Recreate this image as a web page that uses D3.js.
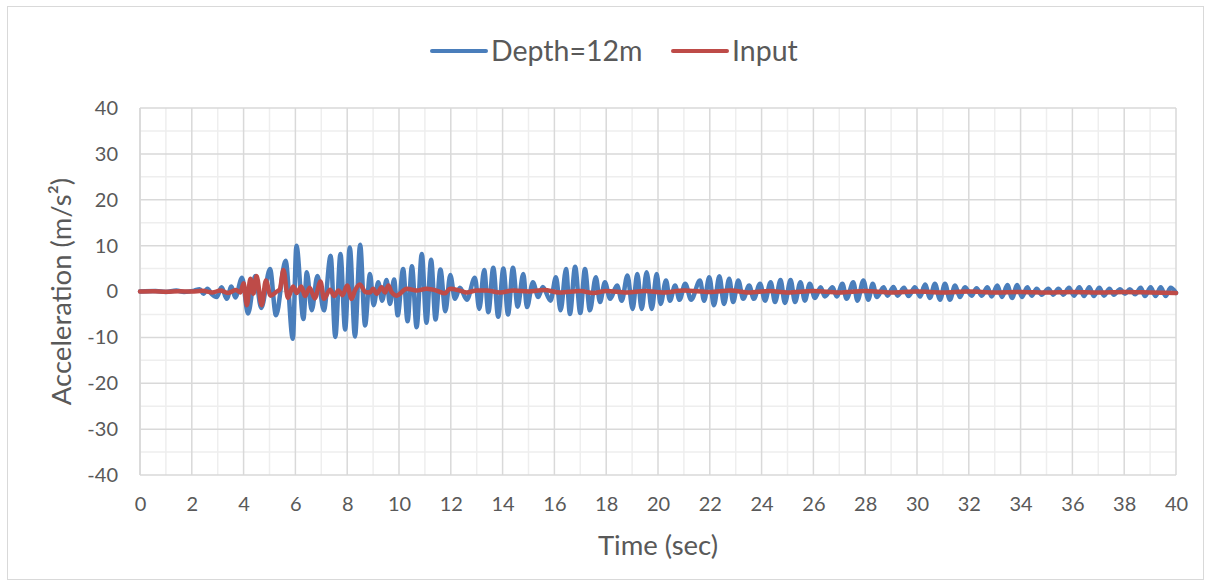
<!DOCTYPE html><html lang="en"><head><meta charset="utf-8">
<title>Acceleration - Depth=12m vs Input</title>
<script src="https://cdn.jsdelivr.net/npm/d3@7"></script>
<style>
body {
	margin: 0;
	background: #fff;
}
text {
	font-family: Lato, "Open Sans", sans-serif;
	fill: #595959;
}
</style>
</head>
<body>
<div id="chart"></div>
<script>
// series names (legend)
const seriesNames = ["Depth=12m", "Input"];

// Depth=12m : time (sec) / acceleration (m/s2), read at peaks and troughs
const depthTime = [0, 0.6, 1.0, 1.4, 1.7, 2.1, 2.3, 2.45, 2.6, 2.78, 2.96, 3.15, 3.35, 3.53, 3.68, 3.94, 4.17, 4.45, 4.68, 5.02,
	5.25, 5.62, 5.9, 6.04, 6.31, 6.44, 6.63, 6.85, 7.1, 7.36, 7.54, 7.74, 7.92, 8.1, 8.3, 8.5, 8.69, 8.88, 9.02, 9.2,
	9.35, 9.52, 9.65, 9.81, 9.95, 10.16, 10.33, 10.5, 10.68, 10.88, 11.06, 11.24, 11.41, 11.6, 11.79, 11.98, 12.16, 12.35, 12.62, 12.93,
	13.1, 13.29, 13.45, 13.64, 13.83, 14.03, 14.21, 14.4, 14.58, 14.8, 14.94, 15.17, 15.38, 15.55, 15.85, 16.06, 16.24, 16.45, 16.6, 16.8,
	17.0, 17.18, 17.37, 17.6, 17.76, 17.95, 18.15, 18.42, 18.6, 18.82, 19.02, 19.2, 19.37, 19.56, 19.76, 19.95, 20.1, 20.31, 20.46, 20.66,
	20.83, 21.05, 21.28, 21.62, 21.78, 21.98, 22.16, 22.37, 22.55, 22.75, 22.9, 23.1, 23.29, 23.52, 23.7, 23.94, 24.13, 24.35, 24.52, 24.73,
	24.9, 25.12, 25.29, 25.5, 25.67, 25.86, 26.06, 26.28, 26.44, 26.74, 26.9, 27.12, 27.28, 27.54, 27.7, 27.93, 28.12, 28.29, 28.45, 28.71,
	28.86, 29.09, 29.25, 29.5, 29.67, 29.92, 30.12, 30.31, 30.5, 30.69, 30.89, 31.08, 31.27, 31.47, 31.66, 31.85, 32.11, 32.3, 32.5, 32.72,
	32.88, 33.1, 33.28, 33.49, 33.67, 33.87, 34.05, 34.26, 34.43, 34.62, 34.81, 35.07, 35.26, 35.46, 35.65, 35.87, 36.06, 36.27, 36.45, 36.65,
	36.83, 37.04, 37.22, 37.43, 37.6, 37.84, 38.03, 38.22, 38.42, 38.64, 38.8, 39.02, 39.21, 39.41, 39.6, 39.79, 40.0];
const depthAcc = [0, 0.1, -0.1, 0.2, -0.1, 0.2, 0.5, -0.5, 0.6, -0.6, -1.2, 0.9, -1.6, 1.1, -1.3, 3.0, -4.8, 3.4, -3.6, 4.9,
	-5.2, 6.7, -10.3, 10.0, -6.0, 4.2, -4.1, 3.4, -4.1, 7.8, -9.9, 8.2, -8.3, 9.6, -9.8, 10.2, -7.4, 3.8, -3.0, 2.0,
	-2.0, 2.5, -2.7, 2.6, -5.2, 4.9, -6.5, 5.5, -7.8, 8.2, -6.8, 6.9, -6.1, 4.8, -4.3, 3.6, -1.6, 0.8, -1.8, 3.0,
	-3.8, 4.7, -4.5, 5.2, -5.5, 5.0, -5.0, 5.2, -3.3, 3.8, -3.4, 2.0, -1.2, 1.0, -2.0, 3.1, -4.1, 4.9, -4.9, 5.4,
	-4.7, 4.9, -4.1, 3.1, -2.3, 2.0, -1.6, 1.3, -2.0, 3.5, -3.8, 3.8, -3.8, 4.2, -3.8, 3.8, -2.7, 2.4, -2.0, 1.3,
	-1.8, 1.7, -1.8, 2.4, -2.0, 3.1, -3.0, 3.3, -2.7, 2.8, -2.3, 2.4, -1.6, 1.3, -1.6, 1.7, -2.0, 2.0, -2.3, 2.5,
	-2.5, 2.5, -2.3, 2.0, -2.0, 1.7, -1.4, 0.9, -1.1, 0.9, -1.1, 1.7, -1.6, 2.0, -2.0, 2.4, -1.8, 1.7, -1.2, 0.9,
	-0.9, 1.0, -0.9, 0.8, -1.0, 0.9, -1.1, 1.5, -1.4, 1.7, -1.8, 1.7, -1.8, 1.3, -1.2, 0.9, -0.9, 0.7, -0.9, 0.9,
	-1.1, 1.3, -1.2, 1.4, -1.4, 1.4, -1.2, 0.9, -0.9, 0.6, -0.7, 0.6, -0.7, 0.6, -0.7, 0.8, -0.9, 0.9, -1.0, 0.9,
	-1.0, 0.8, -0.9, 0.6, -0.7, 0.5, -0.5, 0.5, -0.6, 0.8, -1.0, 0.9, -1.0, 0.9, -1.0, 0.8, -0.3];

// Input : time (sec) / acceleration (m/s2)
const inputTime = [0, 0.5, 1.0, 1.5, 2.0, 2.4, 2.8, 3.1, 3.4, 3.7, 3.88, 4.0, 4.13, 4.26, 4.38, 4.5, 4.7, 4.86, 5.04, 5.28,
	5.4, 5.54, 5.71, 5.91, 6.05, 6.23, 6.37, 6.55, 6.75, 6.97, 7.1, 7.34, 7.5, 7.66, 7.82, 8.0, 8.17, 8.3, 8.49, 8.7,
	8.88, 9.0, 9.14, 9.33, 9.46, 9.59, 9.72, 9.91, 10.3, 10.68, 11.07, 11.45, 11.77, 11.97, 12.35, 12.61, 12.99, 13.38, 13.9, 14.41,
	15.0, 15.6, 16.2, 17.0, 17.5, 18.0, 18.8, 19.5, 20.2, 21.0, 22.0, 22.8, 23.5, 24.3, 25.0, 26.0, 27.0, 28.0, 29.0, 30.0,
	31.0, 32.0, 33.0, 34.0, 35.0, 36.0, 37.0, 38.0, 39.0, 40.0];
const inputAcc = [0, 0.05, -0.05, 0.05, 0, 0.15, -0.2, 0.2, -0.3, 0.3, -0.2, 1.8, -3.0, 2.8, -0.5, 3.4, -3.0, 2.4, -0.9, 0.0,
	0.5, 4.7, -1.4, 1.1, -0.3, 1.1, -1.0, 0.8, -1.5, 2.2, -1.6, 0.4, -1.0, 0.2, -0.8, 1.3, -1.6, 0.2, 1.5, -0.1,
	-0.2, 0.6, -0.5, 0.9, -0.2, 1.3, -0.2, -0.9, 0.6, 0.2, 0.6, 0.2, -0.4, 0.6, 0.2, -0.2, 0.2, 0.2, -0.2, 0.2,
	0.0, 0.3, -0.2, 0.1, -0.3, 0.1, -0.2, 0.1, -0.2, 0.2, -0.1, 0.2, -0.2, 0.1, -0.2, 0.1, -0.2, 0.1, -0.2, 0.0,
	-0.2, 0.0, -0.2, -0.1, -0.2, -0.1, -0.2, -0.1, -0.2, -0.3];

// axis ticks
const xTicks = [0, 2, 4, 6, 8, 10, 12, 14, 16, 18, 20, 22, 24, 26, 28, 30, 32, 34, 36, 38, 40];
const yTicks = [-40, -30, -20, -10, 0, 10, 20, 30, 40];

const colors = ["#4a7ebb", "#be4b48"];

window.onload = () => {
	const W = 1211, H = 586;
	const margin = { top: 108, right: 35, bottom: 111, left: 140 };
	const width = W - margin.left - margin.right;
	const height = H - margin.top - margin.bottom;

	const svg = d3.select("#chart")
		.append("svg")
			.attr("width", W)
			.attr("height", H);

	// chart frame
	svg.append("rect")
		.attr("x", 7.5).attr("y", 6.5)
		.attr("width", 1196).attr("height", 573)
		.attr("fill", "#fff")
		.attr("stroke", "#d9d9d9");

	const g = svg.append("g")
		.attr("transform", `translate(${margin.left}, ${margin.top})`);

	const x = d3.scaleLinear().domain([0, 40]).range([0, width]);
	const y = d3.scaleLinear().domain([-40, 40]).range([height, 0]);

	// minor grid
	const xMinor = d3.range(1, 40, 2);
	const yMinor = d3.range(-35, 40, 10);
	g.append("g").selectAll("line").data(xMinor).join("line")
		.attr("x1", d => x(d)).attr("x2", d => x(d))
		.attr("y1", 0).attr("y2", height)
		.attr("stroke", "#eeeeee").attr("stroke-width", 1.5);
	g.append("g").selectAll("line").data(yMinor).join("line")
		.attr("x1", 0).attr("x2", width)
		.attr("y1", d => y(d)).attr("y2", d => y(d))
		.attr("stroke", "#eeeeee").attr("stroke-width", 1.5);

	// major grid
	g.append("g").selectAll("line").data(xTicks).join("line")
		.attr("x1", d => x(d)).attr("x2", d => x(d))
		.attr("y1", 0).attr("y2", height)
		.attr("stroke", "#d9d9d9").attr("stroke-width", 1.5);
	g.append("g").selectAll("line").data(yTicks).join("line")
		.attr("x1", 0).attr("x2", width)
		.attr("y1", d => y(d)).attr("y2", d => y(d))
		.attr("stroke", "#d9d9d9").attr("stroke-width", 1.5);

	// axes (labels only, Excel style; plain hyphen for negatives)
	const xAxis = g.append("g")
		.attr("transform", `translate(0, ${height})`)
		.call(d3.axisBottom(x).tickValues(xTicks).tickFormat(d => String(d)).tickSize(0).tickPadding(22));
	const yAxis = g.append("g")
		.call(d3.axisLeft(y).tickValues(yTicks).tickFormat(d => String(d)).tickSize(0).tickPadding(22));
	[xAxis, yAxis].forEach(a => {
		a.select(".domain").remove();
		a.selectAll("text")
			.attr("font-family", "Lato, 'Open Sans', sans-serif")
			.attr("font-size", 20)
			.attr("fill", "#595959");
	});
	g.append("line")
		.attr("x1", 0).attr("x2", 0).attr("y1", 0).attr("y2", height)
		.attr("stroke", "#d9d9d9").attr("stroke-width", 1.5);

	// series
	const depthData = depthTime.map((t, i) => ({ t, v: depthAcc[i] }));
	const inputData = inputTime.map((t, i) => ({ t, v: inputAcc[i] }));
	const line = d3.line()
		.x(d => x(d.t))
		.y(d => y(d.v))
		.curve(d3.curveMonotoneX);

	[depthData, inputData].forEach((data, i) => {
		g.append("path")
			.datum(data)
			.attr("fill", "none")
			.attr("stroke", colors[i])
			.attr("stroke-width", 4.5)
			.attr("stroke-linejoin", "round")
			.attr("stroke-linecap", "round")
			.attr("d", line);
	});

	// axis titles
	svg.append("text")
		.attr("x", margin.left + width / 2)
		.attr("y", 555)
		.attr("text-anchor", "middle")
		.attr("font-size", 27.5)
		.text("Time (sec)");
	svg.append("text")
		.attr("transform", `translate(71, ${margin.top + height / 2}) rotate(-90)`)
		.attr("text-anchor", "middle")
		.attr("font-size", 27.5)
		.text("Acceleration (m/s²)");

	// legend
	const legendX = [432, 673];
	const legend = svg.append("g");
	seriesNames.forEach((name, i) => {
		legend.append("line")
			.attr("x1", legendX[i]).attr("x2", legendX[i] + 54)
			.attr("y1", 51).attr("y2", 51)
			.attr("stroke", colors[i])
			.attr("stroke-width", 4)
			.attr("stroke-linecap", "round");
		legend.append("text")
			.attr("x", legendX[i] + 59)
			.attr("y", 61)
			.attr("font-size", 28.5)
			.text(name);
	});
};
</script>
</body>
</html>
